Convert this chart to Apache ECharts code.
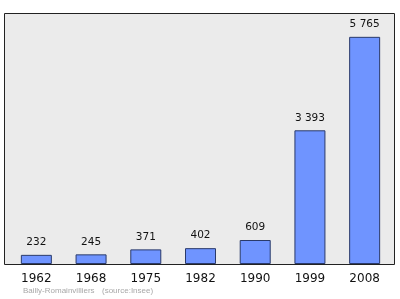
<!DOCTYPE html>
<html><head><meta charset="utf-8">
<script src="https://cdn.jsdelivr.net/npm/echarts@6/dist/echarts.min.js"></script>
<style>html,body{margin:0;padding:0;background:#fff}#c{width:400px;height:299px}</style>
</head><body><div id="c"></div>
<script>
var years = ['1962','1968','1975','1982','1990','1999','2008'];
var population = [232, 245, 371, 402, 609, 3393, 5765];
var footerName = 'Bailly-Romainvilliers';
var footerSource = '(source:Insee)';

function fmt(v){ return String(v).replace(/\B(?=(\d{3})+(?!\d))/g, ' '); }

var chart = echarts.init(document.getElementById('c'), null, {renderer:'canvas'});
chart.setOption({
  animation:false,
  backgroundColor:'#fff',
  graphic:[
    {type:'rect', z:-10, shape:{x:4.5,y:13.5,width:390,height:251}, style:{fill:'#ebebeb', stroke:'#222', lineWidth:1}},
    {type:'text', x:23, y:287, style:{text:footerName, fill:'#a8a8a8', font:'8px "Liberation Sans", sans-serif'}},
    {type:'text', x:102, y:287, style:{text:footerSource, fill:'#a8a8a8', font:'8px "Liberation Sans", sans-serif'}}
  ],
  grid:{left:9, right:8, top:13, bottom:35},
  xAxis:{type:'category', data:years,
    axisLine:{lineStyle:{color:'#222', width:1}},
    axisTick:{show:false},
    axisLabel:{color:'#111', fontSize:12, fontFamily:'DejaVu Sans', margin:9}
  },
  yAxis:{type:'value', min:0, max:6370, show:false, splitLine:{show:false}},
  series:[{type:'bar', data:population, barWidth:31,
    itemStyle:{color:'#6f94ff', borderColor:'#2a3a6a', borderWidth:1},
    label:{show:true, position:'top', distance:7, color:'#111', fontSize:10.5, fontFamily:'DejaVu Sans',
      formatter:function(p){return fmt(p.value);}}
  }]
});
</script></body></html>
